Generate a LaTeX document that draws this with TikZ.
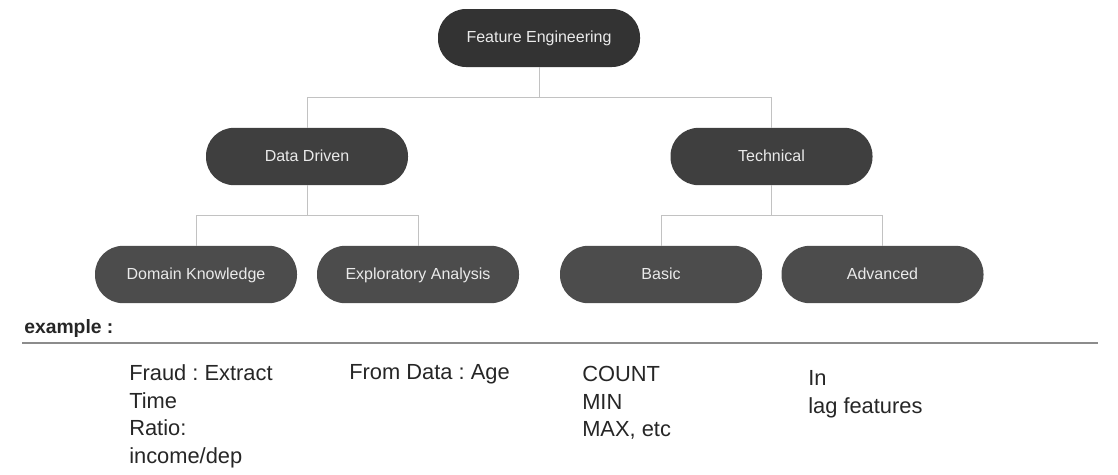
\documentclass[tikz,border=0pt]{standalone}
\usepackage{fontspec}
\setmainfont{Liberation Sans}
\frenchspacing
\definecolor{nodetop}{HTML}{333333}
\definecolor{nodemid}{HTML}{3F3F3F}
\definecolor{nodelow}{HTML}{4C4C4C}
\definecolor{nodetext}{HTML}{EAEAEA}
\definecolor{connline}{HTML}{C2C2C2}
\definecolor{ruleline}{HTML}{8C8C8C}
\definecolor{bodytext}{HTML}{262626}
\tikzset{
  fenode/.style={rounded corners=21pt, minimum width=151.5pt, minimum height=43pt,
    inner sep=0pt, text=nodetext, text height=8.7pt, text depth=1.3pt,
    font=\fontsize{12}{14}\selectfont},
  fetop/.style={fenode, fill=nodetop, minimum height=43.5pt},
  femid/.style={fenode, fill=nodemid},
  felow/.style={fenode, fill=nodelow},
  feconn/.style={line width=0.75pt, draw=connline},
  fetext/.style={anchor=north west, inner sep=0pt, align=left, text=bodytext,
    font=\fontsize{16.4}{20.6}\selectfont}
}
\begin{document}
\begin{tikzpicture}[x=0.75pt, y=-0.75pt]
                    \useasboundingbox (0,0) rectangle (1118,475);

                    % Drawing node Feature Engineering
                    \node [fetop] (fe) at (539,38) {Feature Engineering};%

                    % Drawing nodes Data Driven and Technical
                    \node [femid] (dd) at (307,156.5) {Data Driven};%
                    \node [femid] (tech) at (771.5,156.5) {Technical};%

                    % Drawing nodes of the lowest level
                    \node [felow] (dk) at (196,274.5) {Domain Knowledge};%
                    \node [felow] (ea) at (418,274.5) {Exploratory Analysis};%
                    \node [felow] (basic) at (661,274.5) {Basic};%
                    \node [felow] (adv) at (882.5,274.5) {Advanced};%

                    % Drawing connectors Feature Engineering -- Data Driven, Technical
                    \draw [feconn] (fe.south) -- (fe.south |- 0,97) -| (dd.north);%
                    \draw [feconn] (fe.south |- 0,97) -| (tech.north);%

                    % Drawing connectors Data Driven -- Domain Knowledge, Exploratory Analysis
                    \draw [feconn] (dd.south) -- (dd.south |- 0,215.5) -| (dk.north);%
                    \draw [feconn] (dd.south |- 0,215.5) -| (ea.north);%

                    % Drawing connectors Technical -- Basic, Advanced
                    \draw [feconn] (tech.south) -- (tech.south |- 0,215.5) -| (basic.north);%
                    \draw [feconn] (tech.south |- 0,215.5) -| (adv.north);%

                    % Drawing rule under example
                    \node [anchor=base west, inner sep=0pt, text=bodytext,
                      font=\fontsize{14.5}{16}\selectfont\bfseries] (exlabel) at (24,333) {example :};%
                    \coordinate (ruleA) at (22,343);%
                    \coordinate (ruleB) at (1098,343);%
                    \draw [line width=1.5pt, draw=ruleline] (ruleA) -- (ruleB);%

                    % Drawing example texts
                    \node [fetext] (exdk) at (129,364.5) {Fraud : Extract\\Time\\Ratio:\\income/dep};%
                    \node [fetext] (exea) at (349,364.5) {From Data : Age};%
                    \node [fetext] (exbasic) at (582,366) {COUNT\\MIN\\MAX, etc};%
                    \node [fetext] (exadv) at (808,370.5) {In\\lag features};%
\end{tikzpicture}
\end{document}
